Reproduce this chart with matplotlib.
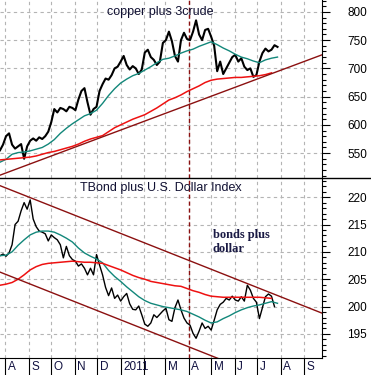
import matplotlib
matplotlib.use("Agg")
import matplotlib.pyplot as plt
import matplotlib.dates as mdates
import matplotlib.transforms as mtrans
from matplotlib.ticker import MultipleLocator, FixedLocator
import pandas as pd
import numpy as np

plt.rcParams['font.family'] = ['Liberation Sans', 'DejaVu Sans']

# ---------------- data ----------------
start = "2010-07-25"
x_start, x_end = "2010-07-25", "2011-09-25"
marker_date = "2011-04-01"

copper_close = [555, 565, 580, 585, 565, 558, 562, 566, 540, 562, 572, 576, 572, 578, 575, 580,
                588, 605, 628, 622, 630, 628, 624, 632, 630, 626, 645, 660, 665, 640, 618, 628,
                632, 660, 672, 682, 680, 688, 700, 703, 712, 722, 706, 698, 704, 700, 690, 698,
                728, 733, 720, 715, 706, 712, 745, 750, 765, 748, 722, 712, 750, 763, 752, 750,
                765, 785, 760, 750, 768, 770, 756, 740, 695, 712, 690, 700, 710, 720, 724, 712,
                718, 703, 697, 700, 685, 688, 712, 727, 735, 730, 733, 741, 738]
copper_ma50 = [534, 539, 548, 551, 552, 554, 557, 560, 566, 574, 585, 594, 602, 609, 616, 620,
               626, 638, 652, 664, 674, 681, 687, 691, 697, 703, 710, 716, 718, 722, 727, 731,
               734, 739, 743, 747, 742, 736, 731, 725, 720, 717, 713, 710, 715, 718, 720]
copper_ma200 = [538, 539, 540, 541, 542, 543, 545, 548, 551, 553, 556, 559, 562, 566, 571, 575,
                578, 581, 588, 595, 600, 605, 610, 614, 618, 624, 630, 637, 644, 648, 653, 659,
                664, 669, 675, 679, 681, 682, 683, 684, 684, 685, 686, 687, 689, 692]
copper_trend_dates = [x_start, x_end]
copper_trend_vals = [511, 724]

bond_close = [209.3, 209.6, 209.2, 209.8, 211.3, 215.0, 215.6, 217.5, 219.0, 217.8, 219.5, 216.0,
              214.6, 213.8, 213.6, 213.3, 212.0, 213.1, 212.6, 212.2, 211.3, 208.9, 211.0, 209.3,
              208.6, 208.3, 207.4, 207.8, 207.0, 205.8, 207.0, 205.8, 209.5, 207.6, 205.8, 203.5,
              202.0, 203.4, 201.5, 202.1, 201.0, 201.8, 202.4, 200.5, 199.5, 199.4, 200.1, 198.5,
              196.8, 196.4, 197.0, 198.5, 198.0, 198.6, 199.2, 199.7, 197.6, 197.3, 199.8, 201.2,
              199.4, 197.9, 197.0, 196.6, 195.1, 194.2, 195.5, 197.0, 196.0, 196.4, 195.7, 197.5,
              199.4, 200.4, 200.8, 201.5, 201.2, 201.9, 201.2, 201.0, 201.8, 201.0, 203.9, 203.0,
              201.5, 200.8, 197.8, 199.8, 201.8, 202.3, 201.9, 200.0]
bond_ma50 = [209.3, 209.4, 210.0, 211.2, 212.2, 213.1, 213.6, 213.8, 213.8, 213.6, 213.1, 212.5,
             211.8, 210.7, 209.8, 209.2, 208.7, 208.0, 206.6, 205.5, 204.6, 203.6, 202.7, 201.8,
             201.1, 200.6, 200.3, 200.0, 199.8, 199.6, 199.4, 199.1, 198.6, 198.1, 197.5, 197.0,
             197.2, 197.8, 198.3, 198.9, 199.4, 199.8, 200.1, 200.3, 200.6, 200.9, 200.6]
bond_ma200 = [203.9, 204.1, 204.4, 205.0, 205.8, 206.7, 207.3, 207.7, 207.9, 208.0, 208.1, 208.2,
              208.3, 208.2, 208.1, 208.1, 208.0, 207.9, 207.5, 207.1, 206.7, 206.2, 205.7, 205.3,
              205.0, 204.6, 204.4, 204.2, 204.0, 203.8, 203.7, 203.3, 202.9, 202.6, 202.2, 201.9,
              201.8, 201.7, 201.7, 201.7, 201.7, 201.7, 201.7, 201.7, 201.6, 201.5]
bond_upper_dates = [x_start, x_end]
bond_upper_vals = [222.1, 198.8]
bond_lower_dates = [x_start, x_end]
bond_lower_vals = [206.3, 183.0]

month_labels = ["A", "S", "O", "N", "D", "2011", "F", "M", "A", "M", "J", "J", "A", "S"]
month_dates = pd.date_range("2010-08-01", "2011-09-01", freq="MS")

top_title = "copper plus 3crude"
bottom_title = "TBond plus U.S. Dollar Index"
note_text = "bonds plus\ndollar"

# ---------------- styles ----------------
C_BLACK = "#000000"
C_TEAL = "#12877a"
C_RED = "#ee1111"
C_DARKRED = "#8b1010"
C_GRID = "#b4b4b4"

def dates_step(n, days):
    return pd.date_range(start, periods=n, freq=f"{days}D")

fig = plt.figure(figsize=(3.71, 3.75), dpi=100)
W, H = 371, 375
ax1 = fig.add_axes([0, (H - 178) / H, 322 / W, 178 / H])
ax2 = fig.add_axes([0, (H - 358) / H, 322 / W, 180 / H])

for ax in (ax1, ax2):
    ax.set_xlim(pd.Timestamp(x_start), pd.Timestamp(x_end))
    ax.xaxis.set_major_locator(FixedLocator(mdates.date2num(month_dates)))
    ax.yaxis.tick_right()
    ax.spines['left'].set_visible(False)
    ax.spines['top'].set_visible(False)
    ax.grid(True, which='major', color=C_GRID, linestyle=(0, (3, 3)), linewidth=0.8)
    ax.set_axisbelow(True)
    ax.tick_params(axis='y', which='major', direction='out', length=6, width=0.8,
                   labelsize=8.5, pad=12, colors='black')
    ax.tick_params(axis='y', which='minor', direction='out', length=3, width=0.8)
    ax.axvline(pd.Timestamp(marker_date), color=C_DARKRED, linestyle=(0, (3, 2)), linewidth=1.0)

# top panel
ax1.plot(dates_step(len(copper_close), 4), copper_close, color=C_BLACK, lw=1.5)
ax1.plot(dates_step(len(copper_ma50), 8), copper_ma50, color=C_TEAL, lw=1.0)
ax1.plot(dates_step(len(copper_ma200), 8), copper_ma200, color=C_RED, lw=1.1)
ax1.plot(pd.to_datetime(copper_trend_dates), copper_trend_vals, color=C_DARKRED, lw=1.0)
ax1.set_ylim(506, 821)
ax1.yaxis.set_major_locator(MultipleLocator(50))
ax1.yaxis.set_minor_locator(MultipleLocator(10))
ax1.tick_params(axis='x', which='both', length=0, labelbottom=False)
ax1.spines['bottom'].set_visible(False)
ax1.text(0.497, 0.933, top_title, transform=ax1.transAxes, ha='center', va='center',
         fontsize=9, color='#111133')

# bottom panel
ax2.plot(dates_step(len(bond_close), 4), bond_close, color=C_BLACK, lw=1.0)
ax2.plot(dates_step(len(bond_ma50), 8), bond_ma50, color=C_TEAL, lw=1.0)
ax2.plot(dates_step(len(bond_ma200), 8), bond_ma200, color=C_RED, lw=1.1)
ax2.plot(pd.to_datetime(bond_upper_dates), bond_upper_vals, color=C_DARKRED, lw=1.0)
ax2.plot(pd.to_datetime(bond_lower_dates), bond_lower_vals, color=C_DARKRED, lw=1.0)
ax2.set_ylim(190.6, 223.5)
ax2.yaxis.set_major_locator(MultipleLocator(5))
ax2.yaxis.set_minor_locator(MultipleLocator(1))
ax2.tick_params(axis='x', which='major', direction='out', length=12.5, width=0.8,
                labelbottom=False)
ax2.text(0.5, 0.944, bottom_title, transform=ax2.transAxes, ha='center', va='center',
         fontsize=9, color='#111133')
ax2.text(0.661, 0.715, note_text, transform=ax2.transAxes, ha='left', va='top',
         fontsize=9, fontweight='bold', family=['Liberation Serif', 'DejaVu Serif'],
         color='#1a1a44', linespacing=1.15)

# month labels
trans = mtrans.blended_transform_factory(ax2.transData, ax2.transAxes)
off = mtrans.ScaledTranslation(2.5 / 100, -9 / 100, fig.dpi_scale_trans)
for d, lab in zip(month_dates, month_labels):
    if lab == "F":
        continue
    ax2.text(d, 0, lab, transform=trans + off, ha='left', va='center',
             fontsize=8.5, color='#101040', clip_on=False)

# separator line between panels
fig.add_artist(plt.Line2D([0, 1], [(H - 178) / H, (H - 178) / H], color='black',
                          lw=1.0, transform=fig.transFigure))

fig.savefig("out.png", dpi=100)
